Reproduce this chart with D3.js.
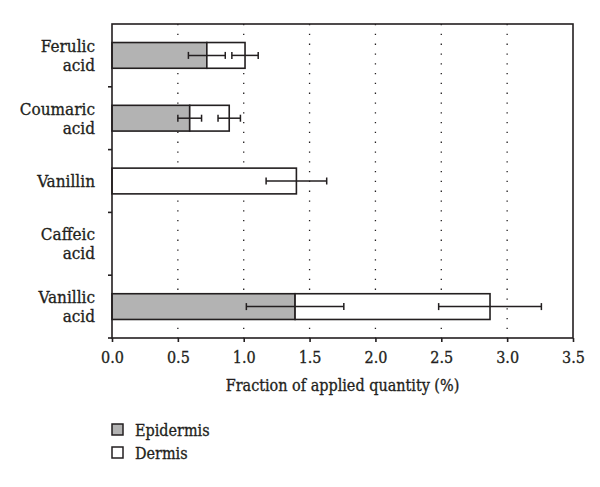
<!DOCTYPE html>
<html>
<head>
<meta charset="utf-8">
<script src="https://cdn.jsdelivr.net/npm/d3@7"></script>
<style>
  body { margin: 0; background: #fff; }
  svg text { fill: #231f20; stroke: #231f20; stroke-width: 0.3px; }
</style>
</head>
<body>
<div id="chart"></div>
<script>
// values (fraction of applied quantity, %)
const categories = ["Ferulic acid", "Coumaric acid", "Vanillin", "Caffeic acid", "Vanillic acid"];
const epidermis = [0.72, 0.59, 0, 0, 1.39];
const epidermisErr = [0.14, 0.09, 0, 0, 0.37];
const dermis = [0.29, 0.30, 1.40, 0, 1.48];
const dermisErr = [0.10, 0.085, 0.23, 0, 0.39];
const xTicks = [0, 0.5, 1, 1.5, 2, 2.5, 3, 3.5];
const gridTicks = [0.5, 1, 1.5, 2, 2.5, 3];
const seriesNames = ["Epidermis", "Dermis"];
const seriesColors = ["#b3b3b3", "#ffffff"];

const width = 600, height = 487;
const margin = { top: 24, right: 27, bottom: 149, left: 112 };
const ink = "#231f20";
const serif = '"DejaVu Serif Condensed", "DejaVu Serif", serif';

const svg = d3.select("#chart").append("svg")
  .attr("width", width)
  .attr("height", height)
  .attr("font-family", serif);

const x = d3.scaleLinear()
  .domain([0, 3.5])
  .range([margin.left, width - margin.right]);

const y = d3.scaleBand()
  .domain(categories)
  .range([margin.top, height - margin.bottom])
  .paddingInner(0.59)
  .paddingOuter(0.295);

const rows = categories.map((c, i) => ({
  name: c,
  epi: epidermis[i], epiErr: epidermisErr[i],
  der: dermis[i], derErr: dermisErr[i]
}));

// dotted grid
svg.append("g")
  .selectAll("line")
  .data(gridTicks)
  .enter().append("line")
  .attr("x1", d => x(d)).attr("x2", d => x(d))
  .attr("y1", margin.top).attr("y2", height - margin.bottom)
  .attr("stroke", ink)
  .attr("stroke-width", 1.3)
  .attr("stroke-dasharray", "1.3 8.5");

// bars
const bars = svg.append("g");
bars.selectAll(".epi")
  .data(rows.filter(d => d.epi > 0))
  .enter().append("rect")
  .attr("x", x(0))
  .attr("y", d => y(d.name))
  .attr("width", d => x(d.epi) - x(0))
  .attr("height", y.bandwidth())
  .attr("fill", seriesColors[0])
  .attr("stroke", ink)
  .attr("stroke-width", 1.6);

bars.selectAll(".der")
  .data(rows.filter(d => d.der > 0))
  .enter().append("rect")
  .attr("x", d => x(d.epi))
  .attr("y", d => y(d.name))
  .attr("width", d => x(d.epi + d.der) - x(d.epi))
  .attr("height", y.bandwidth())
  .attr("fill", seriesColors[1])
  .attr("stroke", ink)
  .attr("stroke-width", 1.6);

// error bars
const errs = [];
rows.forEach(d => {
  if (d.epiErr > 0) errs.push({ name: d.name, c: d.epi, e: d.epiErr });
  if (d.derErr > 0) errs.push({ name: d.name, c: d.epi + d.der, e: d.derErr });
});
const eg = svg.append("g").attr("stroke", ink).attr("stroke-width", 1.5);
errs.forEach(d => {
  const cy = y(d.name) + y.bandwidth() / 2;
  eg.append("line").attr("x1", x(d.c - d.e)).attr("x2", x(d.c + d.e)).attr("y1", cy).attr("y2", cy);
  [d.c - d.e, d.c + d.e].forEach(v => {
    eg.append("line").attr("x1", x(v)).attr("x2", x(v)).attr("y1", cy - 3.5).attr("y2", cy + 3.5);
  });
});

// frame
svg.append("rect")
  .attr("x", x(0)).attr("y", margin.top)
  .attr("width", x(3.5) - x(0))
  .attr("height", height - margin.bottom - margin.top)
  .attr("fill", "none")
  .attr("stroke", ink)
  .attr("stroke-width", 1.6);

// x axis
const xAxis = svg.append("g")
  .attr("transform", `translate(0,${height - margin.bottom})`)
  .call(d3.axisBottom(x).tickValues(xTicks).tickFormat(d3.format(".1f")).tickSize(4).tickSizeOuter(0))
  .attr("font-family", serif)
  .attr("font-size", 16);
xAxis.select(".domain").remove();
xAxis.selectAll("line").attr("stroke", ink).attr("stroke-width", 1.6);
xAxis.selectAll("text")
  .attr("dy", null).attr("y", 25)
  .attr("fill", ink);

// y ticks between categories
const yBounds = categories.slice(1).map(c => y(c) - y.step() * y.paddingInner() / 2);
yBounds.push(height - margin.bottom);
svg.append("g")
  .selectAll("line")
  .data(yBounds)
  .enter().append("line")
  .attr("x1", x(0) - 4).attr("x2", x(0))
  .attr("y1", d => d).attr("y2", d => d)
  .attr("stroke", ink).attr("stroke-width", 1.6);

// y labels
const labels = svg.append("g");
categories.forEach(c => {
  const parts = c.split(" ");
  const cy = y(c) + y.bandwidth() / 2;
  const t = labels.append("text")
    .attr("x", 95)
    .attr("text-anchor", "end")
    .attr("font-size", 17);
  const lh = 19;
  const start = cy - (parts.length - 1) * lh / 2 + 6;
  parts.forEach((p, i) => {
    t.append("tspan").attr("x", 95).attr("y", start + i * lh).text(p);
  });
});

// x title
svg.append("text")
  .attr("x", (x(0) + x(3.5)) / 2)
  .attr("y", 391)
  .attr("text-anchor", "middle")
  .attr("font-size", 16)
  .text("Fraction of applied quantity (%)");

// legend
const legend = svg.append("g");
seriesNames.forEach((n, i) => {
  const ly = 424 + i * 23;
  legend.append("rect")
    .attr("x", 112).attr("y", ly)
    .attr("width", 11).attr("height", 11)
    .attr("fill", seriesColors[i])
    .attr("stroke", ink).attr("stroke-width", 1.5);
  legend.append("text")
    .attr("x", 135).attr("y", ly + 12)
    .attr("font-size", 16)
    .text(n);
});
</script>
</body>
</html>
